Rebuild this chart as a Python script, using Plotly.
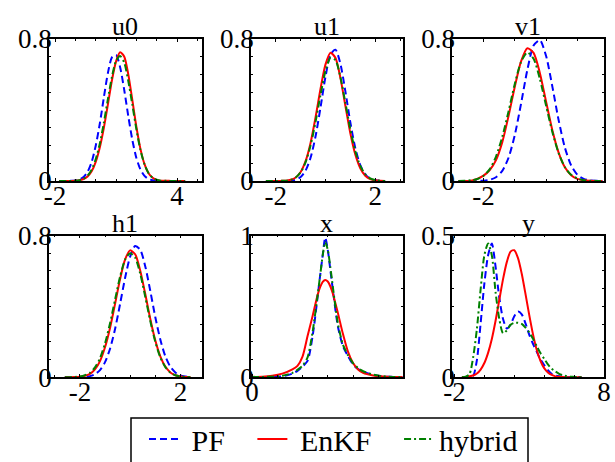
import plotly.graph_objects as go

# ---------------- data ----------------
titles = ["u0", "u1", "v1", "h1", "x", "y"]
series_names = ["PF", "EnKF", "hybrid"]

u0_x = [-1.8, -1.6, -1.4, -1.2, -1.0, -0.8, -0.6, -0.4, -0.2, 0.0, 0.2, 0.4, 0.6, 0.8, 1.0, 1.2,
        1.4, 1.6, 1.8, 2.0, 2.2, 2.4, 2.6, 2.8, 3.0, 3.2, 3.4, 3.6, 3.8, 4.0, 4.2, 4.4]
u0_pf = [0, 0, 0.0002, 0.001, 0.003, 0.008, 0.022, 0.052, 0.107, 0.199, 0.323, 0.471, 0.609, 0.697, 0.710, 0.641,
         0.515, 0.367, 0.232, 0.130, 0.065, 0.029, 0.011, 0.004, 0.001, 0, 0, 0, 0, 0, 0, 0]
u0_enkf = [0, 0, 0, 0.0005, 0.0015, 0.004, 0.011, 0.026, 0.055, 0.108, 0.189, 0.300, 0.432, 0.569, 0.674, 0.725,
           0.702, 0.602, 0.457, 0.306, 0.181, 0.095, 0.044, 0.018, 0.0065, 0.002, 0.001, 0.0008, 0.0006, 0.0004, 0.0002, 0.0001]
u0_hyb = [0, 0, 0.0002, 0.0006, 0.002, 0.005, 0.013, 0.030, 0.064, 0.123, 0.210, 0.328, 0.462, 0.588, 0.677, 0.704,
          0.668, 0.565, 0.430, 0.292, 0.175, 0.094, 0.044, 0.018, 0.007, 0.002, 0.001, 0.0005, 0.0003, 0.0002, 0.0001, 0]

u1_x = [-2.4, -2.2, -2.0, -1.8, -1.6, -1.4, -1.2, -1.0, -0.8, -0.6, -0.4, -0.2, 0.0,
        0.2, 0.4, 0.6, 0.8, 1.0, 1.2, 1.4, 1.6, 1.8, 2.0, 2.2, 2.4]
u1_pf = [0, 0, 0, 0, 0.0005, 0.002, 0.007, 0.022, 0.059, 0.132, 0.252, 0.415, 0.588,
         0.713, 0.740, 0.660, 0.505, 0.330, 0.185, 0.089, 0.037, 0.013, 0.004, 0.001, 0]
u1_enkf = [0, 0, 0.0002, 0.0006, 0.002, 0.007, 0.020, 0.051, 0.113, 0.216, 0.359, 0.520, 0.657,
           0.723, 0.694, 0.581, 0.423, 0.269, 0.149, 0.072, 0.030, 0.011, 0.004, 0.001, 0]
u1_hyb = [0, 0, 0.0001, 0.0006, 0.002, 0.007, 0.020, 0.049, 0.106, 0.201, 0.333, 0.486, 0.621,
          0.694, 0.681, 0.585, 0.440, 0.291, 0.168, 0.085, 0.038, 0.015, 0.005, 0.0015, 0]

v1_x = [-2.8, -2.6, -2.4, -2.2, -2.0, -1.8, -1.6, -1.4, -1.2, -1.0, -0.8, -0.6,
        -0.4, -0.2, 0.0, 0.2, 0.4, 0.6, 0.8, 1.0, 1.2, 1.4, 1.6, 1.8]
v1_pf = [0, 0, 0, 0.0004, 0.002, 0.007, 0.021, 0.057, 0.131, 0.259, 0.436, 0.625,
         0.763, 0.794, 0.704, 0.532, 0.343, 0.188, 0.088, 0.035, 0.012, 0.003, 0.001, 0.0003]
v1_enkf = [0.0001, 0.0005, 0.002, 0.012, 0.030, 0.062, 0.118, 0.219, 0.366, 0.531, 0.674, 0.748,
           0.722, 0.609, 0.447, 0.286, 0.160, 0.077, 0.033, 0.012, 0.004, 0.001, 0.0005, 0.0002]
v1_hyb = [0.0003, 0.001, 0.004, 0.011, 0.029, 0.067, 0.138, 0.249, 0.392, 0.547, 0.671, 0.724,
          0.689, 0.576, 0.424, 0.276, 0.157, 0.078, 0.035, 0.014, 0.005, 0.0015, 0.0005, 0.0002]

h1_x = [-2.6, -2.4, -2.2, -2.0, -1.8, -1.6, -1.4, -1.2, -1.0, -0.8, -0.6, -0.4, -0.2,
        0.0, 0.2, 0.4, 0.6, 0.8, 1.0, 1.2, 1.4, 1.6, 1.8, 2.0, 2.2, 2.4]
h1_pf = [0, 0, 0.0002, 0.0007, 0.002, 0.006, 0.017, 0.040, 0.085, 0.161, 0.272, 0.414, 0.561,
         0.681, 0.741, 0.720, 0.627, 0.488, 0.340, 0.213, 0.118, 0.059, 0.027, 0.010, 0.004, 0.001]
h1_enkf = [0, 0.0002, 0.001, 0.003, 0.008, 0.019, 0.044, 0.091, 0.169, 0.278, 0.414, 0.554, 0.665,
           0.716, 0.694, 0.603, 0.471, 0.330, 0.208, 0.118, 0.060, 0.027, 0.011, 0.004, 0.001, 0.0005]
h1_hyb = [0.0001, 0.0004, 0.0013, 0.004, 0.011, 0.025, 0.055, 0.107, 0.191, 0.305, 0.438, 0.568, 0.664,
          0.700, 0.675, 0.585, 0.455, 0.318, 0.200, 0.112, 0.057, 0.026, 0.011, 0.004, 0.0013, 0.0004]

x_x = [0, 0.4, 0.8, 1.2, 1.6, 1.8, 2.0, 2.2, 2.4, 2.6, 2.7, 2.8, 2.9,
       3.0, 3.1, 3.2, 3.4, 3.6, 3.8, 4.0, 4.2, 4.4, 4.8, 5.2, 5.6, 6.0]
x_pf = [0, 0.001, 0.002, 0.006, 0.025, 0.045, 0.075, 0.115, 0.290, 0.570, 0.720, 0.860, 0.985,
        0.900, 0.760, 0.620, 0.360, 0.220, 0.150, 0.090, 0.058, 0.040, 0.015, 0.005, 0.002, 0]
x_enkf = [0.002, 0.004, 0.010, 0.025, 0.055, 0.080, 0.145, 0.290, 0.432, 0.581, 0.637, 0.673, 0.686,
          0.675, 0.642, 0.591, 0.454, 0.306, 0.180, 0.100, 0.055, 0.030, 0.012, 0.005, 0.002, 0.001]
x_hyb = [0.001, 0.002, 0.004, 0.010, 0.030, 0.052, 0.080, 0.140, 0.320, 0.580, 0.720, 0.860, 0.955,
         0.900, 0.780, 0.640, 0.380, 0.230, 0.155, 0.100, 0.065, 0.042, 0.018, 0.007, 0.002, 0.001]

y_x = [-1.5, -1.25, -1.0, -0.75, -0.5, -0.25, 0.0, 0.25, 0.5, 0.75, 1.0, 1.25, 1.5, 1.75, 2.0,
       2.25, 2.5, 2.75, 3.0, 3.25, 3.5, 3.75, 4.0, 4.25, 4.5, 4.75, 5.0, 5.25, 5.5, 5.75, 6.0, 6.25, 6.5]
y_pf = [0, 0, 0.001, 0.005, 0.06, 0.19, 0.33, 0.43, 0.472, 0.39, 0.28, 0.205, 0.172, 0.185, 0.215,
        0.232, 0.222, 0.190, 0.150, 0.118, 0.090, 0.063, 0.043, 0.025, 0.012, 0.006, 0.003, 0.001, 0, 0, 0, 0, 0]
y_enkf = [0.0004, 0.001, 0.003, 0.006, 0.013, 0.027, 0.050, 0.086, 0.135, 0.199, 0.273, 0.346, 0.406, 0.443, 0.448,
          0.420, 0.365, 0.294, 0.220, 0.152, 0.097, 0.058, 0.032, 0.017, 0.008, 0.003, 0.0014, 0.0005, 0.0002, 0.0001, 0, 0, 0]
y_hyb = [0, 0.002, 0.010, 0.07, 0.17, 0.31, 0.43, 0.472, 0.43, 0.30, 0.205, 0.155, 0.165, 0.185, 0.192,
         0.192, 0.188, 0.175, 0.158, 0.136, 0.110, 0.085, 0.065, 0.045, 0.030, 0.020, 0.012, 0.007, 0.004, 0.002, 0.001, 0, 0]

xtick_vals = [[-2, 4], [-2, 2], [-2, 2], [-2, 2], [0, 6], [-2, 8]]
xtick_text = [["-2", "4"], ["-2", "2"], ["-2", "2"], ["-2", "2"], ["0", "6"], ["-2", "8"]]
ytick_vals = [[0, 0.8], [0, 0.8], [0, 0.8], [0, 0.8], [0, 1], [0, 0.5]]
ytick_text = [["0", "0.8"], ["0", "0.8"], ["0", "0.8"], ["0", "0.8"], ["0", "1"], ["0", "0.5"]]

# ---------------- layout settings ----------------
xranges = [[-2.3, 5.23], [-3.0, 3.1], [-3.0, 1.85], [-3.23, 2.86], [-0.04, 5.96], [-2.15, 8.0]]
yranges = [[0, 0.8], [0, 0.8], [0, 0.8], [0, 0.8], [0, 1], [0, 0.5]]
xminor = [1, 1, 1, 1, 1, 2]
yminor = [0.1, 0.1, 0.1, 0.1, 0.125, 0.0625]

W, H = 615, 462
col_px = [(49, 202), (251, 402.5), (452.2, 604)]
row_px = [(39, 181), (235.5, 377.2)]

panels = [
    (u0_x, u0_pf, u0_enkf, u0_hyb),
    (u1_x, u1_pf, u1_enkf, u1_hyb),
    (v1_x, v1_pf, v1_enkf, v1_hyb),
    (h1_x, h1_pf, h1_enkf, h1_hyb),
    (x_x, x_pf, x_enkf, x_hyb),
    (y_x, y_pf, y_enkf, y_hyb),
]

FONT = "Liberation Serif, Times New Roman, DejaVu Serif, serif"
styles = {
    "PF": dict(color="rgb(0,0,255)", width=2, dash="7px,4px"),
    "EnKF": dict(color="rgb(255,0,0)", width=2, dash="solid"),
    "hybrid": dict(color="rgb(0,128,0)", width=2, dash="7px,3px,2px,3px"),
}
NB = "\u00a0"
legend_labels = {"PF": NB + "PF" + NB * 3, "EnKF": NB + "EnKF" + NB * 3, "hybrid": "hybrid"}

fig = go.Figure()
annotations = []
for i, (xs, pf, enkf, hyb) in enumerate(panels):
    r, c = divmod(i, 3)
    sfx = "" if i == 0 else str(i + 1)
    for name, ys in zip(series_names, [pf, enkf, hyb]):
        fig.add_trace(go.Scatter(
            x=xs, y=ys, mode="lines", name=legend_labels[name],
            line=dict(shape="spline", smoothing=0.7, **styles[name]),
            xaxis="x" + sfx, yaxis="y" + sfx,
            showlegend=(i == 0),
        ))
    x0, x1 = col_px[c]
    y0, y1 = row_px[r]
    xd = [x0 / W, x1 / W]
    yd = [1 - y1 / H, 1 - y0 / H]
    common = dict(showline=True, linecolor="black", linewidth=1.5, mirror="ticks",
                  ticks="inside", ticklen=3, tickwidth=1, tickcolor="black",
                  showgrid=False, zeroline=False,
                  tickfont=dict(family=FONT, size=27, color="black"))
    fig.layout["xaxis" + sfx] = dict(
        domain=xd, range=xranges[i], anchor="y" + sfx,
        tickmode="array", tickvals=xtick_vals[i], ticktext=xtick_text[i],
        ticklabelstandoff=-10,
        minor=dict(ticks="inside", ticklen=2, tickcolor="black", dtick=xminor[i], tick0=0),
        **common)
    fig.layout["yaxis" + sfx] = dict(
        domain=yd, range=yranges[i], anchor="x" + sfx,
        tickmode="array", tickvals=ytick_vals[i], ticktext=ytick_text[i],
        ticklabelstandoff=-10,
        minor=dict(ticks="inside", ticklen=2, tickcolor="black", dtick=yminor[i], tick0=0),
        **common)
    annotations.append(dict(
        text=titles[i], xref="paper", yref="paper",
        x=(xd[0] + xd[1]) / 2, y=yd[1], xanchor="center", yanchor="bottom",
        yshift=-4, showarrow=False,
        font=dict(family=FONT, size=26, color="black")))

# legend frame (box running off the bottom edge as in the reference)
legend_frame = dict(type="rect", xref="paper", yref="paper",
                    x0=131 / W, x1=528 / W, y0=-0.05, y1=1 - 418 / H,
                    line=dict(color="black", width=1.5), fillcolor="rgba(0,0,0,0)")

fig.update_layout(
    width=W, height=H,
    margin=dict(l=0, r=0, t=0, b=0, autoexpand=False),
    paper_bgcolor="white", plot_bgcolor="white",
    annotations=annotations,
    shapes=[legend_frame],
    showlegend=True,
    legend=dict(
        orientation="h", x=144 / W, y=1 - 413 / H, xanchor="left", yanchor="top",
        borderwidth=0, bgcolor="rgba(0,0,0,0)",
        font=dict(family=FONT, size=30, color="black"),
    ),
)

fig.write_html("out.html", config={"displayModeBar": False},
               post_script="document.body.style.margin='0px';")
